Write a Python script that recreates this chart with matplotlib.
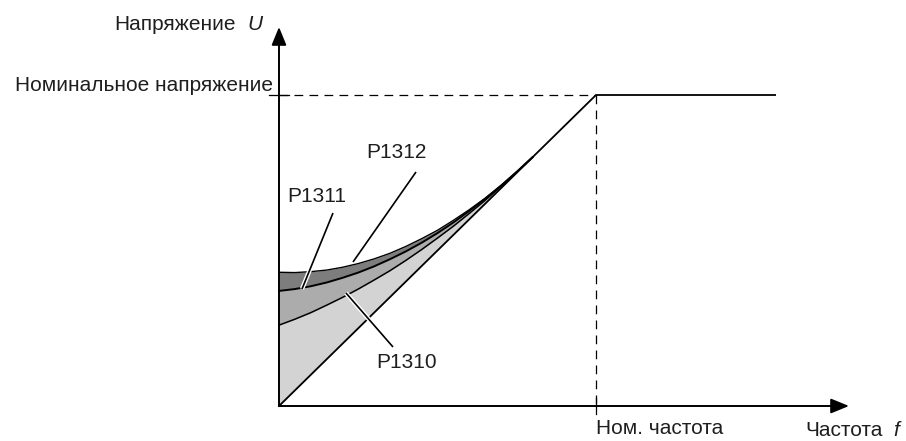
import matplotlib.pyplot as plt
import matplotlib.patheffects as pe

# relative frequency f / f_nom and relative voltage U / U_nom
freq = [0.0, 0.05, 0.10, 0.15, 0.20, 0.25, 0.30, 0.35, 0.40, 0.45,
        0.50, 0.55, 0.60, 0.65, 0.70, 0.75, 0.80]
u_linear = freq
u_p1310 = [0.260, 0.279, 0.300, 0.324, 0.349, 0.376, 0.405, 0.435, 0.468,
           0.503, 0.540, 0.578, 0.619, 0.661, 0.706, 0.752, 0.800]
u_p1311 = [0.370, 0.376, 0.385, 0.397, 0.412, 0.429, 0.449, 0.472, 0.497,
           0.525, 0.556, 0.590, 0.627, 0.666, 0.708, 0.753, 0.800]
u_p1312 = [0.430, 0.429, 0.432, 0.437, 0.446, 0.458, 0.473, 0.491, 0.513,
           0.538, 0.565, 0.597, 0.631, 0.668, 0.709, 0.753, 0.800]

char_f = [0.0, 1.0, 1.565]
char_u = [0.0, 1.0, 1.0]

label_y = "Напряжение"
label_x = "Частота"
label_unom = "Номинальное напряжение"
label_fnom = "Ном. частота"

plt.rcParams["font.family"] = ["Liberation Sans", "DejaVu Sans"]

W, H = 906, 441
X0, Y0 = 279, 406     # pixel of origin
SX, SY = 317, 311     # pixels per unit


def px(x, y):
    return (x - X0) / SX, (Y0 - y) / SY


fig = plt.figure(figsize=(W / 100, H / 100), dpi=100)
ax = fig.add_axes([0, 0, 1, 1])
ax.set_xlim(-X0 / SX, (W - X0) / SX)
ax.set_ylim(-(H - Y0) / SY, Y0 / SY)
ax.axis("off")

# shaded bands
ax.fill_between(freq, u_linear, u_p1310, color="#d3d3d3", lw=0)
ax.fill_between(freq, u_p1310, u_p1311, color="#acacac", lw=0)
ax.fill_between(freq, u_p1311, u_p1312, color="#7d7d7d", lw=0)

ax.plot(freq, u_p1310, color="black", lw=1.1)
ax.plot(freq, u_p1311, color="black", lw=1.4)
ax.plot(freq, u_p1312, color="black", lw=1.0)
ax.plot(char_f, char_u, color="black", lw=1.3)

# dashed guides for nominal values
ax.plot([0, 1], [1, 1], color="black", lw=0.9, dashes=(7, 5))
ax.plot([1, 1], [1, 0], color="black", lw=0.9, dashes=(7, 5))
ax.plot([-0.03, 0.03], [1, 1], color="black", lw=0.9)
ax.plot([1, 1], [-0.025, 0.025], color="black", lw=0.9)

# axes with arrows
arrow = dict(arrowstyle="-|>,head_length=1.1,head_width=0.45", color="black",
             lw=1.4, shrinkA=0, shrinkB=0)
ax.annotate("", xy=px(849, Y0), xytext=(0, 0), arrowprops=arrow)
ax.annotate("", xy=px(X0, 27), xytext=(0, 0), arrowprops=arrow)

# leader lines
halo = [pe.Stroke(linewidth=3.2, foreground="white"), pe.Normal()]
for (a, b) in [((416, 172), (353, 262)), ((333, 213), (302, 289)),
               ((393, 347), (346, 293))]:
    xa, ya = px(*a)
    xb, yb = px(*b)
    ax.plot([xa, xb], [ya, yb], color="black", lw=1.2, path_effects=halo,
            solid_capstyle="butt")

tc = "#1e1e1e"
fs = 15
ax.text(*px(396, 152), "P1312", fontsize=fs, color=tc, ha="center", va="center")
ax.text(*px(317, 196), "P1311", fontsize=fs, color=tc, ha="center", va="center")
ax.text(*px(407, 362), "P1310", fontsize=fs, color=tc, ha="center", va="center")

ax.text(*px(273, 85), label_unom, fontsize=fs, color=tc, ha="right", va="center")
ax.text(*px(236, 25), label_y, fontsize=fs, color=tc, ha="right", va="center")
ax.text(*px(247, 25), "U", fontsize=fs, color=tc, ha="left", va="center",
        style="italic")
ax.text(*px(596, 428), label_fnom, fontsize=fs, color=tc, ha="left", va="center")
ax.text(*px(805, 440), label_x, fontsize=fs, color=tc, ha="left", va="bottom")
ax.text(*px(893, 440), "f", fontsize=fs, color=tc, ha="left", va="bottom",
        style="italic")

fig.savefig("out.png", dpi=100)
